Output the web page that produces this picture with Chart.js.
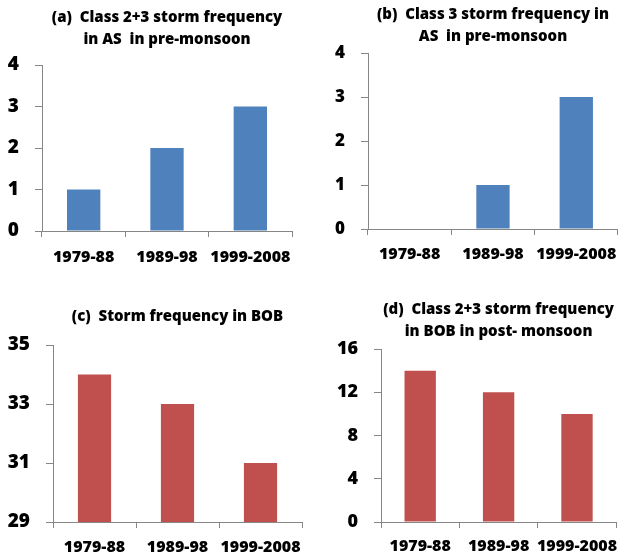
<!DOCTYPE html>
<html>
<head>
<meta charset="utf-8">
<script src="https://cdn.jsdelivr.net/npm/chart.js@4"></script>
<style>
  body { margin: 0; background: #fff; }
  .panel { position: absolute; width: 314px; height: 279px; }
</style>
</head>
<body>
<div class="panel" style="left:0;top:0"><canvas id="chartA"></canvas></div>
<div class="panel" style="left:314px;top:0"><canvas id="chartB"></canvas></div>
<div class="panel" style="left:0;top:279px"><canvas id="chartC"></canvas></div>
<div class="panel" style="left:314px;top:279px"><canvas id="chartD"></canvas></div>
<script>
const periods = ['1979-88', '1989-98', '1999-2008'];

const asClass23Pre = [1, 2, 3];
const asClass3Pre = [0, 1, 3];
const bobAll = [34, 33, 31];
const bobClass23Post = [14, 12, 10];

const BLUE = '#4F81BD';
const RED = '#C0504D';
const AXIS = '#868686';
const FONT = '"Open Sans", sans-serif';

const createPanel = (canvasId, opts) => {
    const ctx = document.getElementById(canvasId);
    if (!ctx) return null;

    return new Chart(ctx, {
        type: 'bar',
        data: {
            labels: periods,
            datasets: [{
                data: opts.values,
                backgroundColor: opts.color,
                categoryPercentage: 1,
                barPercentage: 0.4
            }]
        },
        options: {
            responsive: true,
            maintainAspectRatio: false,
            animation: false,
            layout: { padding: { left: 0, right: opts.padRight, top: 0, bottom: 0 } },
            plugins: {
                legend: { display: false },
                tooltip: { enabled: false },
                title: {
                    display: true,
                    text: opts.title,
                    fullSize: false,
                    color: '#000',
                    font: { family: FONT, size: 15, weight: '800', lineHeight: '22px' },
                    padding: { top: opts.titleTop, bottom: opts.titleBottom }
                }
            },
            scales: {
                x: {
                    offset: true,
                    grid: { offset: true, drawOnChartArea: false, drawTicks: true, tickLength: 6, color: AXIS },
                    border: { color: AXIS, width: 1 },
                    ticks: {
                        color: '#000', padding: opts.xPad, autoSkip: false, maxRotation: 0, minRotation: 0,
                        font: { family: FONT, size: 16, weight: '800' }
                    },
                    afterFit: scale => { scale.height = opts.xHeight; }
                },
                y: {
                    min: opts.min,
                    max: opts.max,
                    grid: { drawOnChartArea: false, drawTicks: true, tickLength: 7, color: AXIS },
                    border: { color: AXIS, width: 1 },
                    ticks: { stepSize: opts.step, color: '#000', padding: 16, font: { family: FONT, size: opts.ySize, weight: '800' } },
                    afterFit: scale => { scale.width = opts.yWidth; }
                }
            }
        }
    });
};

createPanel('chartA', {
    values: asClass23Pre, color: BLUE,
    title: ['(a)  Class 2+3 storm frequency', 'in AS  in pre-monsoon'],
    titleTop: 7, titleBottom: 14,
    min: 0, max: 4, step: 1, ySize: 19,
    yWidth: 42, padRight: 22, xHeight: 48, xPad: 11
});

createPanel('chartB', {
    values: asClass3Pre, color: BLUE,
    title: ['(b)  Class 3 storm frequency in', 'AS  in pre-monsoon'],
    titleTop: 4, titleBottom: 5,
    min: 0, max: 4, step: 1, ySize: 17,
    yWidth: 54, padRight: 5, xHeight: 50, xPad: 10
});

createPanel('chartC', {
    values: bobAll, color: RED,
    title: ['(c)  Storm frequency in BOB'],
    titleTop: 27, titleBottom: 17,
    min: 29, max: 35, step: 2, ySize: 19,
    yWidth: 53, padRight: 12, xHeight: 36, xPad: 10
});

createPanel('chartD', {
    values: bobClass23Post, color: RED,
    title: ['(d)  Class 2+3 storm frequency', 'in BOB in post- monsoon'],
    titleTop: 20, titleBottom: 6,
    min: 0, max: 16, step: 4, ySize: 18,
    yWidth: 67, padRight: 5, xHeight: 36, xPad: 9
});
</script>
</body>
</html>
